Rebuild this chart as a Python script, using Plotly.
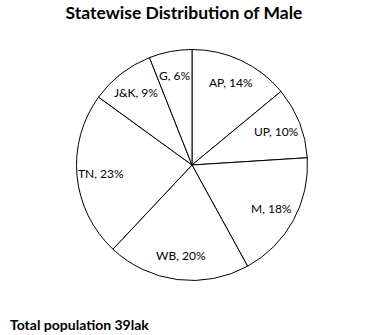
import math
import plotly.graph_objects as go

states = ["AP", "UP", "M", "WB", "TN", "J&K", "G"]
shares = [14, 10, 18, 20, 23, 9, 6]
title_text = "Statewise Distribution of Male"
footer_text = "Total population 39lak"

labels_text = [f"{s}, {v}%" for s, v in zip(states, shares)]

W, H = 375, 335
cx, cy, R = 192, 165, 115.5
label_r = 0.79

fig = go.Figure(go.Pie(
    labels=states,
    values=shares,
    textinfo="none",
    sort=False,
    direction="clockwise",
    rotation=0,
    marker=dict(colors=["white"] * len(states), line=dict(color="black", width=1)),
    hoverinfo="none",
    showlegend=False,
    domain=dict(x=[(cx - R) / W, (cx + R) / W], y=[1 - (cy + R) / H, 1 - (cy - R) / H]),
))

# Slice labels placed along each slice's bisector (derived from the data)
total = sum(shares)
annots = []
cum = 0
for txt, v in zip(labels_text, shares):
    mid = (cum + v / 2) / total * 2 * math.pi
    cum += v
    px = cx + label_r * R * math.sin(mid)
    py = cy - label_r * R * math.cos(mid)
    annots.append(dict(text=txt, xref="paper", yref="paper", x=px / W, y=1 - py / H,
                       xanchor="center", yanchor="middle", showarrow=False,
                       font=dict(family="Lato", size=12, color="black")))

annots.append(dict(text=f"<b>{footer_text}</b>", xref="paper", yref="paper",
                   x=8 / W, xanchor="left", y=1 - 324 / H, yanchor="middle",
                   showarrow=False, font=dict(family="Lato", size=14, color="black")))

fig.update_layout(
    width=W, height=H,
    margin=dict(l=0, r=0, t=0, b=0),
    paper_bgcolor="white",
    plot_bgcolor="white",
    title=dict(text=f"<b>{title_text}</b>", x=184 / W, xanchor="center",
               y=1 - 13 / H, yanchor="middle",
               font=dict(family="Lato", size=17.5, color="black")),
    annotations=annots,
)

fig.write_html("out.html")
